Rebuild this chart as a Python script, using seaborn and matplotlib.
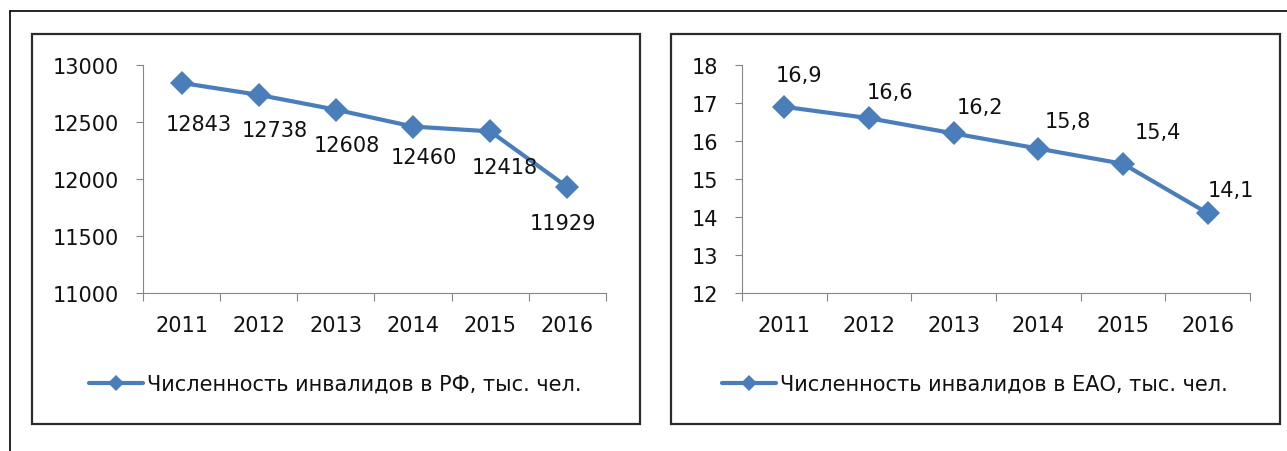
import numpy as np
import pandas as pd
import matplotlib.pyplot as plt
import seaborn as sns
from matplotlib.patches import Rectangle
from matplotlib.lines import Line2D

# --- Data ---
years = ["2011", "2012", "2013", "2014", "2015", "2016"]
rf_values = [12843, 12738, 12608, 12460, 12418, 11929]
eao_values = [16.9, 16.6, 16.2, 15.8, 15.4, 14.1]
rf_label = "Численность инвалидов в РФ, тыс. чел."
eao_label = "Численность инвалидов в ЕАО, тыс. чел."
rf_yticks = [11000, 11500, 12000, 12500, 13000]
eao_yticks = [12, 13, 14, 15, 16, 17, 18]

# --- Style ---
sns.set_style("white")
plt.rcParams["font.family"] = ["DejaVu Sans"]
plt.rcParams["text.color"] = "#111111"
plt.rcParams["xtick.labelcolor"] = "#111111"
plt.rcParams["ytick.labelcolor"] = "#111111"
FS = 15
BLUE = "#4A7EBB"
AXIS_GRAY = "#868686"
W, H = 1287, 452


def draw_panel(ax, values, label, yticks, fmt, offsets, legend_x):
    df = pd.DataFrame({"year": years, "value": values})
    sns.lineplot(
        data=df, x="year", y="value", ax=ax, color=BLUE, linewidth=3,
        marker="D", markersize=12, markeredgewidth=0, label=label,
    )
    ax.set_xlim(-0.5, len(years) - 0.5)
    ax.set_ylim(yticks[0], yticks[-1])
    ax.set_yticks(yticks)
    ax.set_xticks(range(len(years)))
    ax.set_xticklabels(years)
    ax.set_xticks(np.arange(-0.5, len(years)), minor=True)
    ax.tick_params(axis="x", which="major", length=0, pad=16, labelsize=FS)
    ax.tick_params(axis="x", which="minor", length=6, width=0.8,
                   color=AXIS_GRAY, direction="out", bottom=True)
    ax.tick_params(axis="y", length=5, width=0.8, color=AXIS_GRAY,
                   direction="out", left=True, pad=12, labelsize=FS)
    ax.set_xlabel("")
    ax.set_ylabel("")
    for side in ["top", "right"]:
        ax.spines[side].set_visible(False)
    for side in ["left", "bottom"]:
        ax.spines[side].set_color(AXIS_GRAY)
        ax.spines[side].set_linewidth(0.8)

    for i, v in enumerate(values):
        ax.annotate(fmt(v), (i, v), xytext=offsets[i], textcoords="offset pixels",
                    ha="center", va="center", fontsize=FS)

    ax.legend(loc="center left", bbox_to_anchor=(legend_x / W, 1 - 385 / H),
              bbox_transform=fig.transFigure, frameon=False, fontsize=FS,
              borderpad=0, borderaxespad=0, handlelength=2.6,
              handletextpad=0.2, markerscale=0.7)


fig = plt.figure(figsize=(W / 100, H / 100), dpi=100)
fig.patch.set_facecolor("white")

ax1 = fig.add_axes([143 / W, 1 - 294 / H, 463 / W, 228 / H])
ax2 = fig.add_axes([742 / W, 1 - 294 / H, 508 / W, 228 / H])

rf_offsets = [(17, -41), (16, -35), (11, -35), (11, -30), (15, -36), (-4, -36)]
eao_offsets = [(15, 32), (21, 26), (26, 26), (29, 28), (35, 32), (23, 23)]

draw_panel(ax1, rf_values, rf_label, rf_yticks, lambda v: f"{v:d}",
           rf_offsets, 89)
draw_panel(ax2, eao_values, eao_label, eao_yticks,
           lambda v: f"{v:.1f}".replace(".", ","), eao_offsets, 722)

# chart frames
for x0, x1 in [(32, 640), (671, 1280)]:
    fig.add_artist(Rectangle((x0 / W, 1 - 425 / H), (x1 - x0) / W, 390 / H,
                             transform=fig.transFigure, fill=False,
                             edgecolor="#2b2b2b", linewidth=1.6))
# outer page border
fig.add_artist(Line2D([10 / W, 1], [1 - 12 / H, 1 - 12 / H],
                      transform=fig.transFigure, color="black", linewidth=1.2))
fig.add_artist(Line2D([10 / W, 10 / W], [0, 1 - 12 / H],
                      transform=fig.transFigure, color="black", linewidth=1.2))

fig.savefig("out.png", dpi=100, facecolor="white")
